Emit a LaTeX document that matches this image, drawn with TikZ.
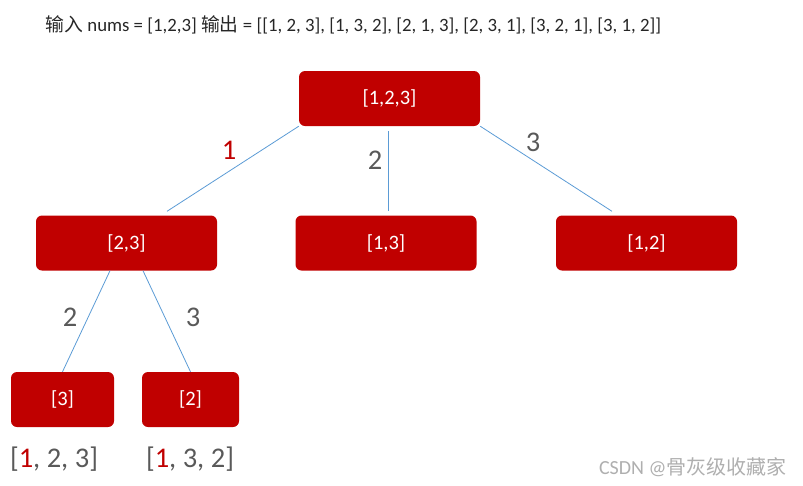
\documentclass[tikz,border=0pt]{standalone}
\usepackage{fontspec}
\setmainfont{Carlito}
\newfontfamily\cjk{Noto Sans CJK SC}
\usetikzlibrary{positioning, calc}
\definecolor{boxred}{RGB}{192,0,0}
\definecolor{edgeblue}{RGB}{91,155,213}
\definecolor{labelgray}{RGB}{89,89,89}
\definecolor{markgray}{RGB}{175,175,175}
\tikzset{
  perm/.style={
    rectangle, rounded corners=6pt, fill=boxred, text=white,
    minimum width=181pt, minimum height=55pt, inner sep=0pt,
    font=\fontsize{20.5}{22}\selectfont
  },
  leaf/.style={perm, minimum width=100pt},
  branch/.style={draw=edgeblue, line width=0.8pt},
  choice/.style={text=labelgray, font=\fontsize{28.5}{30}\selectfont},
  result/.style={text=labelgray, font=\fontsize{28.5}{30}\selectfont}
}

\begin{document}
\begin{tikzpicture}[x=1pt, y=-1pt]
  \useasboundingbox (0,0) rectangle (803,485);

  \node[anchor=west, font=\fontsize{18.8}{21}\selectfont, text=black!85] (title) at (42,25)
    {{\cjk 输入} nums = [1,2,3] {\cjk 输出} = [[1, 2, 3], [1, 3, 2], [2, 1, 3], [2, 3, 1], [3, 2, 1], [3, 1, 2]]};

  \node[perm] (root) at (389.5,98.5) {[1,2,3]};
  \node[perm] (n23) at (126.5,243) {[2,3]};
  \node[perm] (n13) at (386,243) {[1,3]};
  \node[perm] (n12) at (646.5,243) {[1,2]};
  \node[leaf, minimum width=103pt] (n3) at (62.5,399.5) {[3]};
  \node[leaf, minimum width=97pt] (n2) at (190.5,399.5) {[2]};

  \draw[branch] (root.south west) -- ([xshift=40.5pt, yshift=4pt]n23.north);
  \draw[branch] ([xshift=-1.5pt, yshift=-5pt]root.south) -- ([xshift=2pt, yshift=4pt]n13.north);
  \draw[branch] (root.south east) -- ([xshift=-34.5pt, yshift=4pt]n12.north);
  \draw[branch] ([xshift=-16.5pt]n23.south) -- (n3.north);
  \draw[branch] ([xshift=16.5pt]n23.south) -- (n2.north);

  \node[choice, text=boxred] (c1) at (229,150) {1};
  \node[choice] (c2) at (375,160) {2};
  \node[choice] (c3) at (533,142) {3};
  \node[choice] (c32) at (70,317) {2};
  \node[choice] (c33) at (193,317) {3};

  \node[result] (r123) at (54,459) {[{\color{boxred}1}, 2, 3]};
  \node[result] (r132) at (190,459) {[{\color{boxred}1}, 3, 2]};

  \node[anchor=east, text=markgray, font=\fontsize{20}{22}\selectfont] (mark) at (790,467)
    {CSDN @{\cjk 骨灰级收藏家}};
\end{tikzpicture}
\end{document}
